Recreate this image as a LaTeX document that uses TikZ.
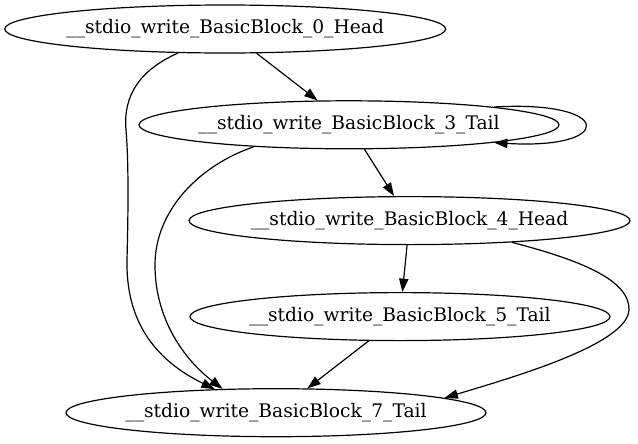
\documentclass[tikz,border=0pt]{standalone}
\usepackage{fontspec}
\setmainfont{DejaVu Serif}
\usetikzlibrary{shapes.geometric,arrows.meta}
\tikzset{
  bb/.style={draw, ellipse, inner sep=0pt, line width=0.9pt, minimum height=36pt,
             font=\fontsize{14pt}{16pt}\selectfont},
  headbb/.style={bb, minimum width=330.75pt},
  tailbb/.style={bb, minimum width=315pt},
  edge/.style={draw, line width=0.9pt, -{Triangle[length=10pt,width=7pt]}}
}
\newcommand{\bbtext}[1]{\makebox[0pt][c]{#1}}
\begin{document}
\begin{tikzpicture}[x=0.75pt,y=-0.75pt]
\useasboundingbox (0,0) rectangle (638,443);
\node[headbb] (n0) at (225.2,29) {\bbtext{\_\_stdio\_write\_BasicBlock\_0\_Head}};
\node[tailbb] (n3) at (349,124.8) {\bbtext{\_\_stdio\_write\_BasicBlock\_3\_Tail}};
\node[headbb] (n4) at (409.5,220.6) {\bbtext{\_\_stdio\_write\_BasicBlock\_4\_Head}};
\node[tailbb] (n5) at (400,316.6) {\bbtext{\_\_stdio\_write\_BasicBlock\_5\_Tail}};
\node[tailbb] (n7) at (276,412.7) {\bbtext{\_\_stdio\_write\_BasicBlock\_7\_Tail}};

\path[edge] (n0) -- (n3);
\path[edge] (n3) -- (n4);
\path[edge] (n4) -- (n5);
\path[edge] (n5) -- (n7);
\path[edge] (n0.207) .. controls (140,70) and (123,95) .. (126,130)
   .. controls (129,165) and (128,220) .. (127,260)
   .. controls (126,310) and (145,355) .. (n7.159);
\path[edge] (n3.193) .. controls (200,165) and (155,210) .. (155,265)
   .. controls (155,320) and (185,360) .. (n7.156);
\path[edge] (n4.-12) .. controls (580,260) and (630,280) .. (629,310)
   .. controls (627,345) and (510,378) .. (n7.5.4);
\path[edge] (n3.7.3) .. controls (615,100) and (615,150) .. (n3.-7.3);
\end{tikzpicture}
\end{document}
